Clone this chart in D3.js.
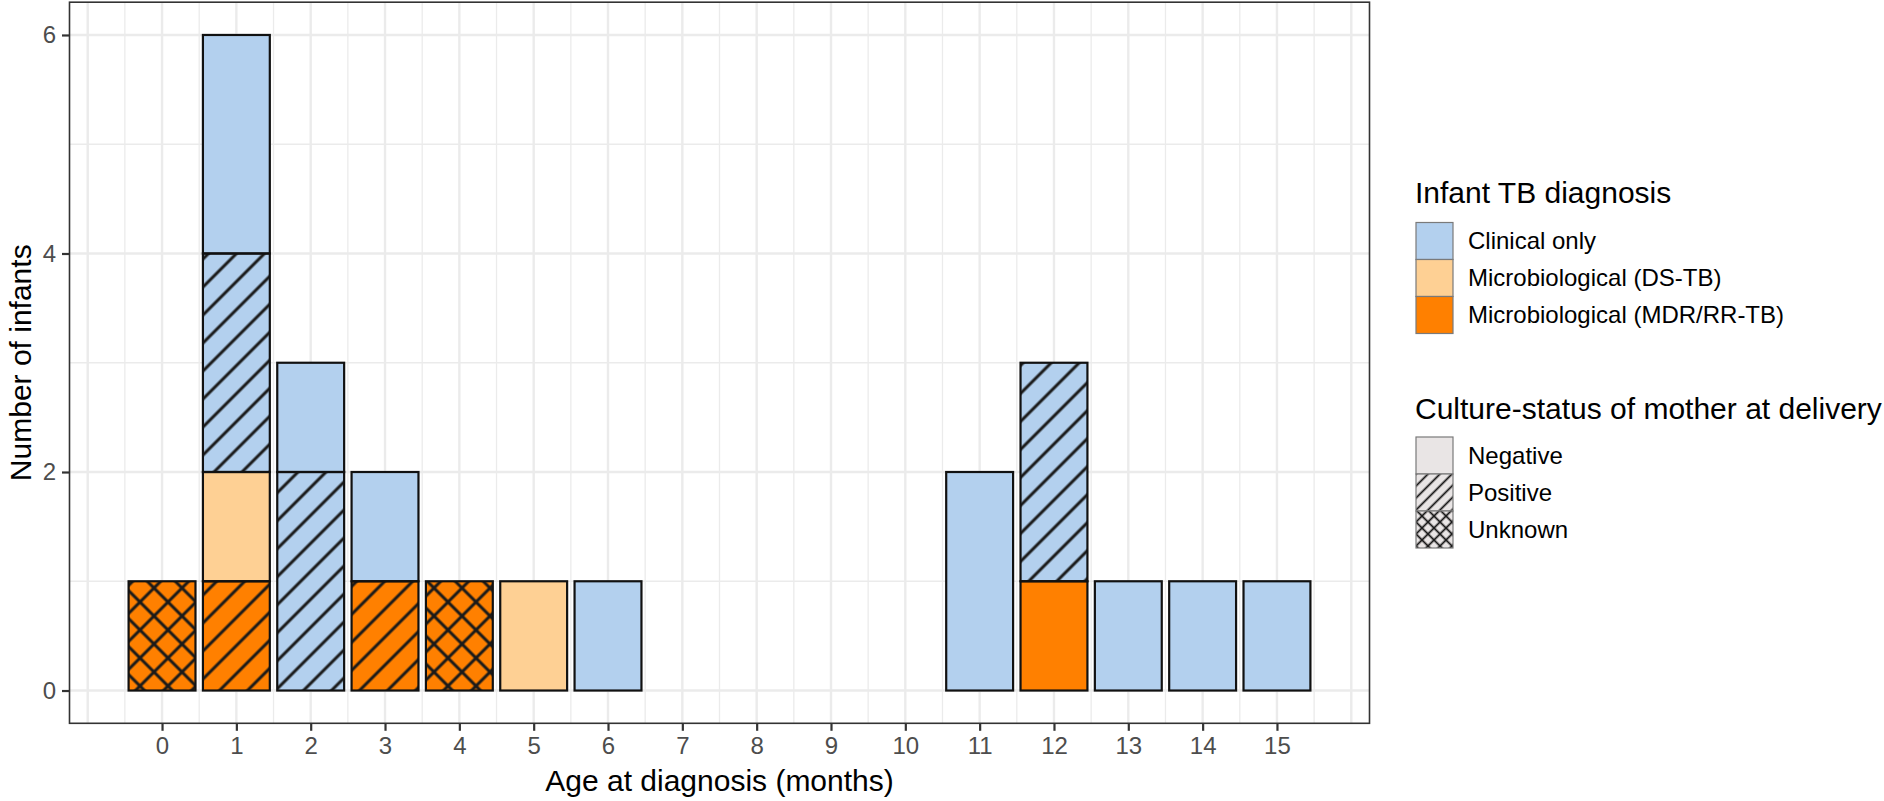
<!DOCTYPE html>
<html>
<head>
<meta charset="utf-8">
<script src="https://cdn.jsdelivr.net/npm/d3@7"></script>
<style>
  html, body { margin: 0; padding: 0; background: #fff; }
  svg { display: block; font-family: "Liberation Sans", Arial, Helvetica, sans-serif; }
</style>
</head>
<body>
<svg id="chart" width="1884" height="801"></svg>
<script>
// ---- data (one entry per stacked segment, listed bottom to top within each age) ----
const ages      = [0, 1, 1, 1, 1, 2, 2, 3, 3, 4, 5, 6, 11, 12, 12, 13, 14, 15];
const diagnosis = ["Microbiological (MDR/RR-TB)", "Microbiological (MDR/RR-TB)", "Microbiological (DS-TB)", "Clinical only", "Clinical only",
                   "Clinical only", "Clinical only", "Microbiological (MDR/RR-TB)", "Clinical only", "Microbiological (MDR/RR-TB)",
                   "Microbiological (DS-TB)", "Clinical only", "Clinical only", "Microbiological (MDR/RR-TB)", "Clinical only",
                   "Clinical only", "Clinical only", "Clinical only"];
const culture   = ["Unknown", "Positive", "Negative", "Positive", "Negative",
                   "Positive", "Negative", "Positive", "Negative", "Unknown",
                   "Negative", "Negative", "Negative", "Negative", "Positive",
                   "Negative", "Negative", "Negative"];
const counts    = [1, 1, 1, 2, 2, 2, 1, 1, 1, 1, 1, 1, 2, 1, 2, 1, 1, 1];

const diagnosisLevels = ["Clinical only", "Microbiological (DS-TB)", "Microbiological (MDR/RR-TB)"];
const cultureLevels   = ["Negative", "Positive", "Unknown"];
const xTicks = d3.range(0, 16);
const yTicks = [0, 2, 4, 6];

// ---- layout ----
const svg = d3.select("#chart");
const panel = { left: 69.5, right: 1369.5, top: 2.2, bottom: 723.3 };

const x = d3.scaleLinear().domain([-1.245, 16.245]).range([panel.left, panel.right]);
const y = d3.scaleLinear().domain([-0.3, 6.3]).range([panel.bottom, panel.top]);

const fillScale = d3.scaleOrdinal().domain(diagnosisLevels).range(["#B3D0EE", "#FED094", "#FF8000"]);

// ---- patterns ----
const defs = svg.append("defs");
function makePattern(id, spacingH, lw, cross, bg) {
  const w = spacingH / Math.SQRT2;
  const p = defs.append("pattern").attr("id", id)
    .attr("patternUnits", "userSpaceOnUse")
    .attr("width", w).attr("height", w)
    .attr("patternTransform", "rotate(45)");
  if (bg) p.append("rect").attr("width", w).attr("height", w).attr("fill", bg);
  p.append("line").attr("x1", w / 2).attr("y1", -1).attr("x2", w / 2).attr("y2", w + 1)
    .attr("stroke", "#1a1a1a").attr("stroke-width", lw);
  if (cross) p.append("line").attr("x1", -1).attr("y1", w / 2).attr("x2", w + 1).attr("y2", w / 2)
    .attr("stroke", "#1a1a1a").attr("stroke-width", lw);
}
makePattern("pat-Positive", 28, 3, false);
makePattern("pat-Unknown", 28, 3, true);
makePattern("leg-Positive", 12, 1.8, false, "#E9E5E5");
makePattern("leg-Unknown", 12, 1.8, true, "#E9E5E5");

// ---- panel background & grid ----
svg.append("rect").attr("x", panel.left).attr("y", panel.top)
  .attr("width", panel.right - panel.left).attr("height", panel.bottom - panel.top).attr("fill", "#fff");

const grid = svg.append("g");
const vMinor = d3.range(-1, 16.01, 0.5).filter(v => !Number.isInteger(v));
const vMajor = d3.range(-1, 16.01, 1);
grid.selectAll(".vminor").data(vMinor).join("line")
  .attr("x1", d => x(d)).attr("x2", d => x(d)).attr("y1", panel.top).attr("y2", panel.bottom)
  .attr("stroke", "#EBEBEB").attr("stroke-width", 1.3);
grid.selectAll(".hminor").data([1, 3, 5]).join("line")
  .attr("y1", d => y(d)).attr("y2", d => y(d)).attr("x1", panel.left).attr("x2", panel.right)
  .attr("stroke", "#EBEBEB").attr("stroke-width", 1.3);
grid.selectAll(".vmajor").data(vMajor).join("line")
  .attr("x1", d => x(d)).attr("x2", d => x(d)).attr("y1", panel.top).attr("y2", panel.bottom)
  .attr("stroke", "#EBEBEB").attr("stroke-width", 2.4);
grid.selectAll(".hmajor").data(yTicks).join("line")
  .attr("y1", d => y(d)).attr("y2", d => y(d)).attr("x1", panel.left).attr("x2", panel.right)
  .attr("stroke", "#EBEBEB").attr("stroke-width", 2.4);

// ---- stacked segments ----
const running = {};
const segs = ages.map((a, i) => {
  const y0 = running[a] || 0;
  const y1 = y0 + counts[i];
  running[a] = y1;
  return { age: a, diag: diagnosis[i], cult: culture[i], y0, y1 };
});

const bars = svg.append("g");
bars.selectAll(".fill").data(segs).join("rect")
  .attr("x", d => x(d.age - 0.45)).attr("width", d => x(d.age + 0.45) - x(d.age - 0.45))
  .attr("y", d => y(d.y1)).attr("height", d => y(d.y0) - y(d.y1))
  .attr("fill", d => fillScale(d.diag));
bars.selectAll(".pat").data(segs.filter(d => d.cult !== "Negative")).join("rect")
  .attr("x", d => x(d.age - 0.45)).attr("width", d => x(d.age + 0.45) - x(d.age - 0.45))
  .attr("y", d => y(d.y1)).attr("height", d => y(d.y0) - y(d.y1))
  .attr("fill", d => `url(#pat-${d.cult})`);
bars.selectAll(".outline").data(segs).join("rect")
  .attr("x", d => x(d.age - 0.45)).attr("width", d => x(d.age + 0.45) - x(d.age - 0.45))
  .attr("y", d => y(d.y1)).attr("height", d => y(d.y0) - y(d.y1))
  .attr("fill", "none").attr("stroke", "#111").attr("stroke-width", 2.2);

// ---- panel border ----
svg.append("rect").attr("x", panel.left).attr("y", panel.top)
  .attr("width", panel.right - panel.left).attr("height", panel.bottom - panel.top)
  .attr("fill", "none").attr("stroke", "#333").attr("stroke-width", 1.6);

// ---- axes ----
const xAxis = svg.append("g").attr("transform", `translate(0,${panel.bottom})`)
  .call(d3.axisBottom(x).tickValues(xTicks).tickSize(7.5).tickPadding(6).tickFormat(d3.format("d")));
const yAxis = svg.append("g").attr("transform", `translate(${panel.left},0)`)
  .call(d3.axisLeft(y).tickValues(yTicks).tickSize(7.5).tickPadding(6).tickFormat(d3.format("d")));
[xAxis, yAxis].forEach(g => {
  g.select(".domain").remove();
  g.selectAll(".tick line").attr("stroke", "#333").attr("stroke-width", 2.2);
  g.selectAll(".tick text").attr("fill", "#4D4D4D").style("font-size", "24px")
    .style("font-family", "'Liberation Sans', Arial, sans-serif");
});

// axis titles
svg.append("text").attr("x", (panel.left + panel.right) / 2).attr("y", 791)
  .attr("text-anchor", "middle").style("font-size", "30px").attr("fill", "#000")
  .text("Age at diagnosis (months)");
svg.append("text").attr("transform", `translate(31,${(panel.top + panel.bottom) / 2}) rotate(-90)`)
  .attr("text-anchor", "middle").style("font-size", "30px").attr("fill", "#000")
  .text("Number of infants");

// ---- legends ----
const legX = 1416, keyS = 37, labX = 1468;
const leg1 = svg.append("g");
leg1.append("text").attr("x", legX - 1).attr("y", 203).style("font-size", "30px").text("Infant TB diagnosis");
diagnosisLevels.forEach((lv, i) => {
  const ky = 222.5 + i * keyS;
  leg1.append("rect").attr("x", legX).attr("y", ky).attr("width", keyS).attr("height", keyS)
    .attr("fill", fillScale(lv)).attr("stroke", "#7a7a7a").attr("stroke-width", 1.2);
  leg1.append("text").attr("x", labX).attr("y", ky + keyS / 2 + 8.3).style("font-size", "24px").text(lv);
});

const leg2 = svg.append("g");
leg2.append("text").attr("x", legX - 1).attr("y", 419).style("font-size", "30px").text("Culture-status of mother at delivery");
cultureLevels.forEach((lv, i) => {
  const ky = 437 + i * keyS;
  leg2.append("rect").attr("x", legX).attr("y", ky).attr("width", keyS).attr("height", keyS)
    .attr("fill", lv === "Negative" ? "#E9E5E5" : `url(#leg-${lv})`)
    .attr("stroke", "#7a7a7a").attr("stroke-width", 1.2);
  leg2.append("text").attr("x", labX).attr("y", ky + keyS / 2 + 8.3).style("font-size", "24px").text(lv);
});
</script>
</body>
</html>
